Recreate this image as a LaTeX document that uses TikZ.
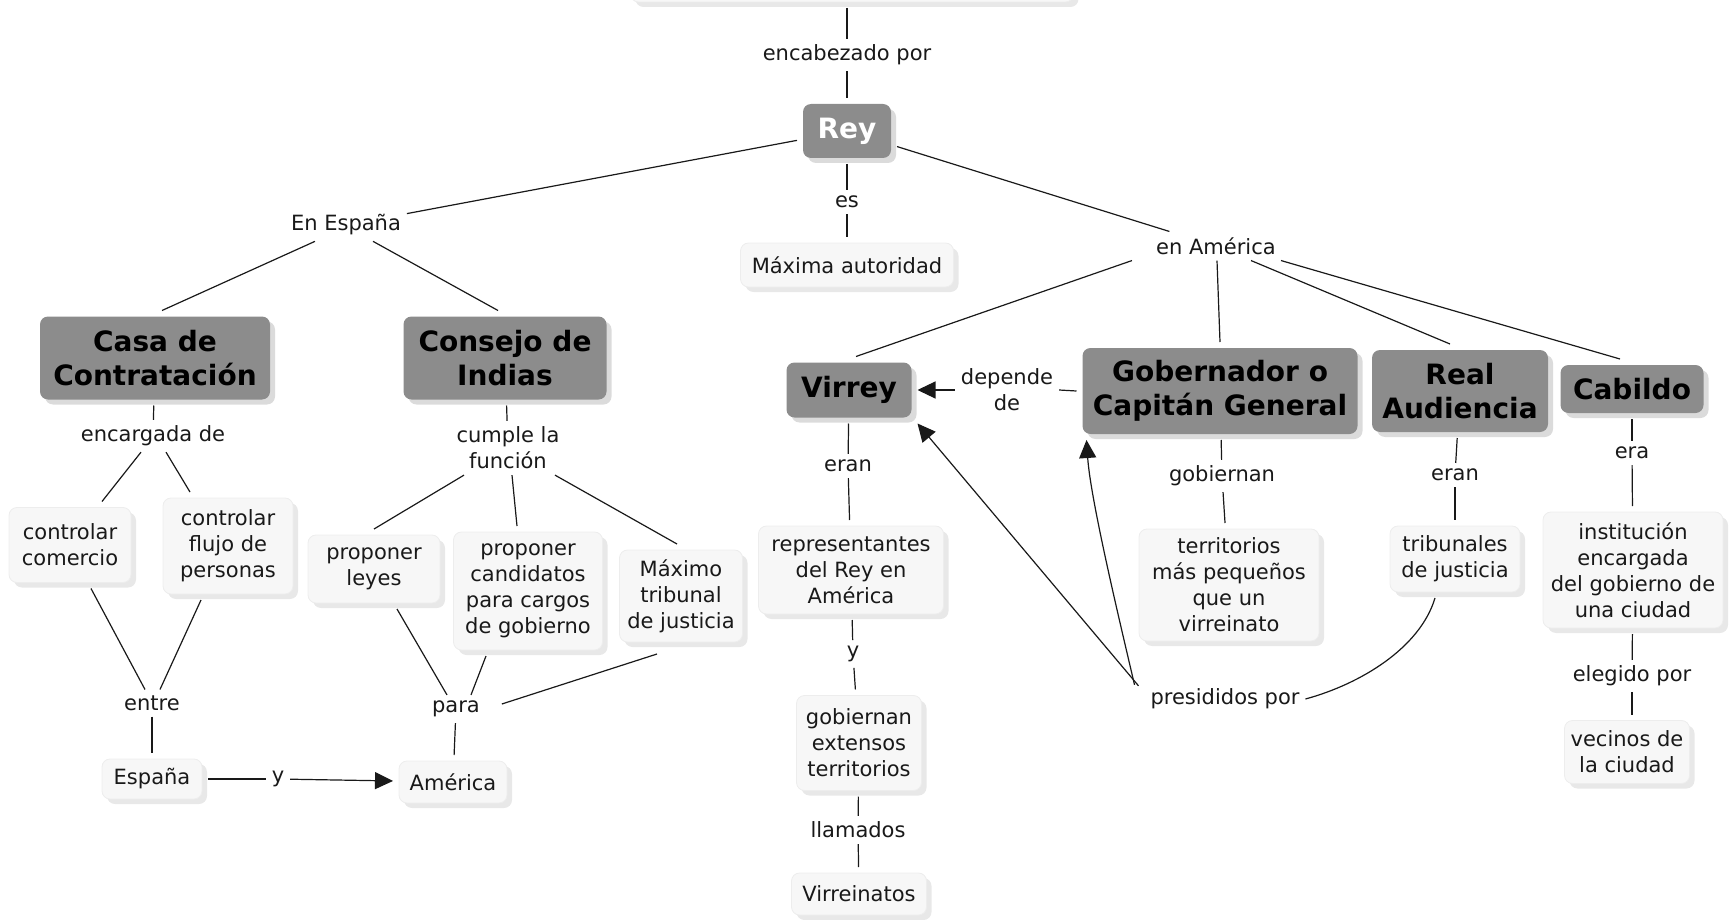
\documentclass[tikz,border=0pt]{standalone}
\usepackage{fontspec}
\setmainfont{DejaVu Sans}
\usetikzlibrary{shadows,arrows.meta,calc}
\begin{document}
\begin{tikzpicture}[x=0.5pt,y=-0.5pt,
  dark/.style={rounded corners=4pt, fill=black!45, text=black, align=center,
    font=\bfseries\fontsize{14}{17}\selectfont, inner sep=2pt, outer sep=3pt,
    drop shadow={shadow xshift=2.5pt,shadow yshift=-2.5pt,fill=black!14,opacity=1}},
  light/.style={rounded corners=4pt, fill=black!3, draw=black!7, text=black!90, align=center,
    font=\fontsize{10.5}{13}\selectfont, inner sep=2pt, outer sep=3pt,
    drop shadow={shadow xshift=2.5pt,shadow yshift=-2.5pt,fill=black!9,opacity=1}},
  lbl/.style={text=black!90, align=center, font=\fontsize{10.5}{13}\selectfont, inner sep=1pt, outer sep=2pt},
  con/.style={draw=black!90, line width=0.6pt},
  arr/.style={con, -{Triangle[length=9pt,width=8.5pt]}}
]
\useasboundingbox (0,0) rectangle (1731,920);

% nodes
\node[light, minimum width=221.5pt, minimum height=22pt] (top) at (852,-20) {};
\node[lbl] (encab) at (847,55) {encabezado por};
\node[dark, text=white, minimum width=44pt, minimum height=27pt] (rey) at (847,131) {Rey};
\node[lbl] (es) at (847,202) {es};
\node[light, minimum width=106.5pt, minimum height=22pt] (maxima) at (847,265) {Máxima autoridad};
\node[lbl] (enesp) at (346,225) {En España};
\node[lbl] (enam) at (1216,246) {en América};

\node[dark, minimum width=115pt, minimum height=41.5pt] (casa) at (155,358) {Casa de\\Contratación};
\node[dark, minimum width=101.5pt, minimum height=41.5pt] (consejo) at (505,358) {Consejo de\\Indias};
\node[lbl] (encargada) at (153,436) {encargada de};
\node[light, minimum width=61pt, minimum height=37.5pt] (comercio) at (70,545) {controlar\\comercio};
\node[light, minimum width=65pt, minimum height=48pt] (flujo) at (228,546) {controlar\\flujo de\\personas};
\node[lbl] (cumple) at (508,448) {cumple la\\función};
\node[light, minimum width=66pt, minimum height=34pt] (leyes) at (374,569) {proponer\\leyes};
\node[light, minimum width=74.5pt, minimum height=59pt] (cand) at (528,591) {proponer\\candidatos\\para cargos\\de gobierno};
\node[light, minimum width=61.5pt, minimum height=46pt] (maxtrib) at (681,596) {Máximo\\tribunal\\de justicia};
\node[lbl] (entre) at (152,703) {entre};
\node[light, minimum width=50pt, minimum height=20pt] (espana) at (152,779) {España};
\node[lbl] (y1) at (278,779) {y};
\node[light, minimum width=54pt, minimum height=21pt] (america) at (453,782) {América};
\node[lbl] (para) at (456,709) {para};

\node[dark, minimum width=62.5pt, minimum height=27.5pt] (virrey) at (849,390) {Virrey};
\node[lbl] (depende) at (1007,390) {depende\\de};
\node[dark, minimum width=137.5pt, minimum height=43pt] (gob) at (1220,391) {Gobernador o\\Capitán General};
\node[dark, minimum width=88pt, minimum height=41pt] (ra) at (1460,391) {Real\\Audiencia};
\node[dark, minimum width=71.5pt, minimum height=24pt] (cabildo) at (1632,389) {Cabildo};

\node[lbl] (eran1) at (848,466) {eran};
\node[light, minimum width=92.5pt, minimum height=44pt] (rep) at (851,570) {representantes\\del Rey en\\América};
\node[lbl] (y2) at (853,654) {y};
\node[light, minimum width=62.5pt, minimum height=47.5pt] (gobext) at (859,743) {gobiernan\\extensos\\territorios};
\node[lbl] (llamados) at (858,830) {llamados};
\node[light, minimum width=67.5pt, minimum height=21pt] (virreinatos) at (859,894) {Virreinatos};

\node[lbl] (gobiernan) at (1222,476) {gobiernan};
\node[light, minimum width=90pt, minimum height=56pt] (terr) at (1229,585) {territorios\\más pequeños\\que un\\virreinato};
\node[lbl] (eran2) at (1455,475) {eran};
\node[light, minimum width=65pt, minimum height=33pt] (trib) at (1455,559) {tribunales\\de justicia};
\node[lbl] (era) at (1632,453) {era};
\node[light, minimum width=90pt, minimum height=58pt] (inst) at (1633,570) {institución\\encargada\\del gobierno de\\una ciudad};
\node[lbl] (elegido) at (1632,676) {elegido por};
\node[light, minimum width=62.5pt, minimum height=31.5pt] (vecinos) at (1627,752) {vecinos de\\la ciudad};
\node[lbl] (presid) at (1225,699) {presididos por};

% connectors
\draw[con] (encab.north |- top.south) -- (encab.north);
\draw[con] (encab) -- (rey);
\draw[con] (rey) -- (es);
\draw[con] (es) -- (maxima);
\draw[con] (rey) -- (enesp);
\draw[con] (rey) -- (enam);
\draw[con] ($(enesp.south)+(-31,0)$) -- ($(casa.north)+(7,0)$);
\draw[con] ($(enesp.south)+(27,0)$) -- ($(consejo.north)+(-7,0)$);
\draw[con] (casa) -- (encargada);
\draw[con] ($(encargada.south)+(-12,0)$) -- ($(comercio.north)+(32,0)$);
\draw[con] ($(encargada.south)+(13,0)$) -- ($(flujo.north)+(-38,0)$);
\draw[con] (consejo) -- (cumple);
\draw[con] ($(cumple.south)+(-44,0)$) -- (leyes.north);
\draw[con] ($(cumple.south)+(4,0)$) -- ($(cand.north)+(-11,0)$);
\draw[con] ($(cumple.south)+(47,0)$) -- ($(maxtrib.north)+(-4,0)$);
\draw[con] ($(comercio.south)+(21,0)$) -- ($(entre.north)+(-7,0)$);
\draw[con] ($(flujo.south)+(-27,0)$) -- ($(entre.north)+(8,0)$);
\draw[con] (entre) -- (espana);
\draw[con] (espana) -- (y1);
\draw[arr] (y1) -- (america);
\draw[con] ($(leyes.south)+(23,0)$) -- ($(para.north)+(-9,0)$);
\draw[con] ($(cand.south)+(-42,0)$) -- ($(para.north)+(15,0)$);
\draw[con] ($(maxtrib.south)+(-24,6)$) -- ($(para.east)+(16,-5)$);
\draw[con] (para) -- (america);

\draw[con] ($(enam.south)+(-84,0)$) -- ($(virrey.north)+(7,0)$);
\draw[con] ($(enam.south)+(1,0)$) -- (gob.north);
\draw[con] ($(enam.south)+(35,0)$) -- ($(ra.north)+(-10,0)$);
\draw[con] ($(enam.south)+(65,0)$) -- ($(cabildo.north)+(-12,0)$);
\draw[con] (gob.west) -- (depende.east);
\draw[arr] (depende.west) -- (virrey.east);

\draw[con] (virrey) -- (eran1);
\draw[con] (eran1) -- (rep);
\draw[con] (rep) -- (y2);
\draw[con] (y2) -- (gobext);
\draw[con] (gobext) -- (llamados);
\draw[con] (llamados) -- (virreinatos);

\draw[con] (gob) -- (gobiernan);
\draw[con] (gobiernan) -- (terr);
\draw[con] (ra) -- (eran2);
\draw[con] (eran2) -- (trib);
\draw[con] (cabildo) -- (era);
\draw[con] (era) -- (inst);
\draw[con] (inst) -- (elegido);
\draw[con] (elegido) -- ($(vecinos.north)+(5,0)$);

\draw[con] ($(trib.south)+(-20,0)$) .. controls +(-15,50) and +(55,-15) .. (presid.east);
\draw[arr] ($(presid.north west)+(-6,3)$) -- (virrey.south east);
\draw[arr] ($(presid.north west)+(-10,2)$) .. controls +(-14,-60) and +(4,60) .. ($(gob.south west)+(10,0)$);
\end{tikzpicture}
\end{document}
